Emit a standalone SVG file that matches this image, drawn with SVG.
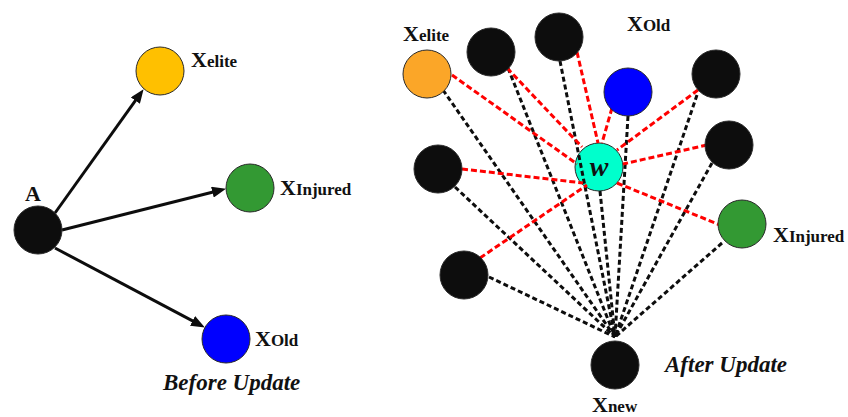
<svg xmlns="http://www.w3.org/2000/svg" width="848" height="417" viewBox="0 0 848 417">
  <style>
    .node { stroke: #2a2a2a; stroke-width: 1; }
    .blk { fill: #0d0d0d; }
    .lbl { font-family: "Liberation Serif", "Times New Roman", serif; font-weight: bold; fill: #111; }
    .big { font-size: 22px; }
    .sub { font-size: 17px; }
    .cap { font-family: "Liberation Serif", "Times New Roman", serif; font-weight: bold; font-style: italic; font-size: 23px; fill: #111; }
    .wl { font-family: "Liberation Serif", "Times New Roman", serif; font-weight: bold; font-style: italic; font-size: 28px; fill: #111; }
    .arrow { stroke: #0d0d0d; stroke-width: 3; fill: none; marker-end: url(#head); }
    .dk { stroke: #0d0d0d; stroke-width: 3; stroke-dasharray: 5 3; fill: none; }
    .rd { stroke: #ff0000; stroke-width: 3; stroke-dasharray: 6 3; fill: none; }
  </style>
  <defs>
    <marker id="head" markerUnits="userSpaceOnUse" markerWidth="14" markerHeight="11" refX="7" refY="5.5" orient="auto">
      <path d="M0,0 L14,5.5 L0,11 Z" fill="#0d0d0d"/>
    </marker>
  </defs>

  <rect width="848" height="417" fill="#ffffff"/>

  <!-- central node sits beneath the fan of dashed links -->
  <g id="node-w">
    <circle class="node" cx="599" cy="167" r="24" fill="#00ffcc"/>
    <text class="wl" x="599" y="176" text-anchor="middle">w</text>
  </g>

  <g id="connectors">
    <!-- before update: arrows out of A -->
    <line class="arrow" x1="55" y1="213" x2="139.5" y2="94.9"/>
    <line class="arrow" x1="62" y1="230" x2="219.2" y2="190.5"/>
    <line class="arrow" x1="55" y1="248" x2="198.7" y2="324.2"/>

    <!-- after update: every node feeds Xnew -->
    <line class="dk" x1="443" y1="90" x2="615" y2="337"/>
    <line class="dk" x1="508" y1="68" x2="615" y2="337"/>
    <line class="dk" x1="560" y1="61" x2="615" y2="337"/>
    <line class="dk" x1="628" y1="116" x2="615" y2="337"/>
    <line class="dk" x1="697" y1="95" x2="615" y2="337"/>
    <line class="dk" x1="712" y1="163" x2="615" y2="337"/>
    <line class="dk" x1="600" y1="191" x2="615" y2="337"/>
    <line class="dk" x1="455" y1="187" x2="615" y2="337"/>
    <line class="dk" x1="722" y1="243" x2="615" y2="337"/>
    <line class="dk" x1="489" y1="277" x2="615" y2="337"/>

    <!-- links between w and the surrounding nodes -->
    <line class="rd" x1="452" y1="75" x2="577" y2="164"/>
    <line class="rd" x1="507" y1="68" x2="582" y2="147"/>
    <line class="rd" x1="577" y1="52" x2="598" y2="143"/>
    <line class="rd" x1="612" y1="108" x2="602" y2="143"/>
    <line class="rd" x1="698" y1="90" x2="617" y2="150"/>
    <line class="rd" x1="707" y1="145" x2="623" y2="164"/>
    <line class="rd" x1="462" y1="169" x2="583" y2="183"/>
    <line class="rd" x1="617" y1="183" x2="720" y2="225"/>
    <line class="rd" x1="480" y1="258" x2="587" y2="185"/>
  </g>

  <!-- before update -->
  <g id="node-a">
    <circle class="node blk" cx="38" cy="230" r="24"/>
    <text class="lbl big" x="33" y="201" text-anchor="middle">A</text>
  </g>
  <g id="node-elite-before">
    <circle class="node" cx="160" cy="71" r="24" fill="#ffc000"/>
    <text class="lbl" x="191" y="67"><tspan class="big">X</tspan><tspan class="sub">elite</tspan></text>
  </g>
  <g id="node-injured-before">
    <circle class="node" cx="250" cy="188" r="24" fill="#339933"/>
    <text class="lbl" x="280" y="195"><tspan class="big">X</tspan><tspan class="sub">Injured</tspan></text>
  </g>
  <g id="node-old-before">
    <circle class="node" cx="226" cy="339" r="24" fill="#0000ff"/>
    <text class="lbl" x="255" y="345.5"><tspan class="big">X</tspan><tspan class="sub">Old</tspan></text>
  </g>
  <text class="cap" x="163" y="390">Before Update</text>

  <!-- after update -->
  <g id="node-elite-after">
    <circle class="node" cx="427" cy="74" r="24" fill="#fba628"/>
    <text class="lbl" x="403" y="41"><tspan class="big">X</tspan><tspan class="sub">elite</tspan></text>
  </g>
  <g id="node-b1"><circle class="node blk" cx="491" cy="52" r="24"/></g>
  <g id="node-b2"><circle class="node blk" cx="559" cy="37" r="24"/></g>
  <g id="node-old-after">
    <circle class="node" cx="628" cy="92" r="24" fill="#0000ff"/>
    <text class="lbl" x="627" y="30.5"><tspan class="big">X</tspan><tspan class="sub">Old</tspan></text>
  </g>
  <g id="node-b3"><circle class="node blk" cx="716" cy="74" r="24"/></g>
  <g id="node-b4"><circle class="node blk" cx="729" cy="145" r="24"/></g>
  <g id="node-b5"><circle class="node blk" cx="438" cy="169" r="24"/></g>
  <g id="node-injured-after">
    <circle class="node" cx="742" cy="224" r="24" fill="#339933"/>
    <text class="lbl" x="773" y="242"><tspan class="big">X</tspan><tspan class="sub">Injured</tspan></text>
  </g>
  <g id="node-b6"><circle class="node blk" cx="464" cy="275" r="24"/></g>
  <g id="node-new">
    <circle class="node blk" cx="615" cy="365" r="24"/>
    <text class="lbl" x="592" y="411.5"><tspan class="big">X</tspan><tspan class="sub">new</tspan></text>
  </g>
  <text class="cap" x="665" y="372">After Update</text>
</svg>
